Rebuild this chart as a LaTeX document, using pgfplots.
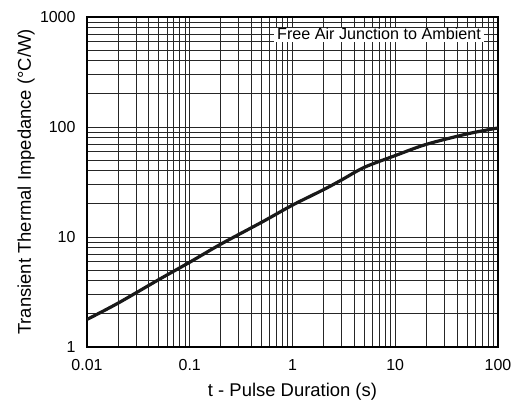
\documentclass[border=0pt]{standalone}
\usepackage{fontspec}
\setmainfont{Liberation Sans}
\usepackage{pgfplots}
\pgfplotsset{compat=1.18}
\begin{document}
\begin{tikzpicture}
\path[use as bounding box] (0,0) rectangle (517bp,405bp);
\begin{axis}[
  at={(87bp,58bp)}, anchor=south west,
  scale only axis, width=411bp, height=330bp,
  xmode=log, ymode=log,
  xmin=0.01, xmax=100, ymin=1, ymax=1000,
  xtick={0.01,0.1,1,10,100}, xticklabels={0.01,0.1,1,10,100},
  ytick={1,10,100,1000}, yticklabels={1,10,100,1000},
  /pgf/number format/assume math mode=true,
  tick label style={font=\fontsize{16}{19}\selectfont},
  xticklabel style={yshift=-9bp},
  yticklabel style={xshift=-8bp},
  major tick length=0pt, minor tick length=0pt,
  grid=both,
  major grid style={black!85, line width=0.8bp},
  minor grid style={black!85, line width=0.8bp},
  axis line style={line width=1.8bp},
  xlabel={t - Pulse Duration (s)},
  ylabel={Transient Thermal Impedance (°C/W)},
  label style={font=\fontsize{18.5}{22}\selectfont},
  xlabel style={at={(axis description cs:0.5,-0.1515)}, anchor=base},
  ylabel style={at={(axis description cs:-0.1363,0.5)}, anchor=base},
]
\addplot[black!90, line width=3.2bp, smooth] coordinates {
 (0.01,1.78) (0.02,2.5) (0.05,4.1) (0.1,5.9) (0.2,8.6) (0.5,13.6)
 (1,19.5) (2,26.9) (3,33) (5,43) (10,55) (20,69.5) (50,86.5) (100,98)
};
\node[fill=white, inner xsep=3bp, inner ysep=0bp, text height=11.5bp, text depth=2bp,
  font=\fontsize{16.2}{19}\selectfont] at (rel axis cs:0.7105,0.945) {Free Air Junction to Ambient};
\end{axis}
\end{tikzpicture}
\end{document}
